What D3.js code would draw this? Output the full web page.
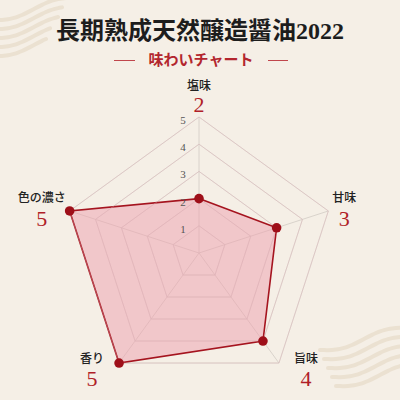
<!DOCTYPE html>
<html>
<head>
<meta charset="utf-8">
<script src="https://cdn.jsdelivr.net/npm/d3@7"></script>
<style>
  html, body { margin: 0; padding: 0; background: #f5efe6; }
  svg { display: block; }
</style>
</head>
<body>
<svg id="chart" width="400" height="400"></svg>
<script>
const axisNames = ['塩味', '甘味', '旨味', '香り', '色の濃さ']
const axisValues = [2, 3, 4, 5, 5]
const tickLevels = [1, 2, 3, 4, 5]

const width = 400, height = 400
const cx = 199, cy = 253
const maxR = 136

const svg = d3.select('#chart')

// background + faint wave decoration
svg.append('rect')
    .attr('width', width)
    .attr('height', height)
    .attr('fill', '#f5efe6')

const waves = svg.append('g')
    .attr('fill', 'none')
    .attr('stroke', '#ebe1d1')
    .attr('stroke-linecap', 'round')

const wave = (x0, y0, w, amp) => {
    const pts = d3.range(0, w + 1, 4).map(x => [x0 + x, y0 + Math.sin(x / 14) * amp - x * 0.25])
    return d3.line().curve(d3.curveBasis)(pts)
}
;[0, 9, 18, 27, 36].forEach((off, i) => {
    waves.append('path')
        .attr('d', wave(-10, 20 + off, 80 - i * 6, 4))
        .attr('stroke-width', 4)
})
;[0, 9, 18, 27, 36].forEach((off, i) => {
    waves.append('path')
        .attr('d', wave(320 + i * 4, 350 + off, 90 - i * 4, 4))
        .attr('stroke-width', 4)
})

// title
svg.append('text')
    .attr('x', 200)
    .attr('y', 39)
    .attr('text-anchor', 'middle')
    .attr('font-family', '"Liberation Serif", "Noto Sans CJK JP", serif')
    .attr('font-weight', 700)
    .attr('font-size', 24)
    .attr('fill', '#1d1d1d')
    .text('長期熟成天然醸造醤油2022')

svg.append('text')
    .attr('x', 201)
    .attr('y', 65)
    .attr('text-anchor', 'middle')
    .attr('font-family', '"Noto Sans CJK JP", sans-serif')
    .attr('font-weight', 700)
    .attr('font-size', 15)
    .attr('fill', '#b3262e')
    .text('味わいチャート')

svg.append('line').attr('x1', 114).attr('x2', 135).attr('y1', 60.5).attr('y2', 60.5)
    .attr('stroke', '#c0464c').attr('stroke-width', 1)
svg.append('line').attr('x1', 268).attr('x2', 288).attr('y1', 60.5).attr('y2', 60.5)
    .attr('stroke', '#c0464c').attr('stroke-width', 1)

// radar
const rScale = d3.scaleLinear().domain([0, 5]).range([0, maxR])
const angle = d3.scaleLinear().domain([0, axisNames.length]).range([0, 2 * Math.PI])

const point = (i, v) => {
    const a = angle(i)
    return [cx + Math.sin(a) * rScale(v), cy - Math.cos(a) * rScale(v)]
}

const radar = svg.append('g')

const ring = d3.lineRadial()
    .angle((d, i) => angle(i))
    .radius(d => rScale(d))
    .curve(d3.curveLinearClosed)

// grid rings
tickLevels.forEach(level => {
    radar.append('path')
        .attr('transform', `translate(${cx},${cy})`)
        .attr('d', ring(axisNames.map(() => level)))
        .attr('fill', 'none')
        .attr('stroke', '#d2ccc4')
        .attr('stroke-width', 0.8)
})

// spokes
axisNames.forEach((name, i) => {
    const [x, y] = point(i, 5)
    radar.append('line')
        .attr('x1', cx).attr('y1', cy)
        .attr('x2', x).attr('y2', y)
        .attr('stroke', '#d2ccc4')
        .attr('stroke-width', 0.8)
})

// data polygon
radar.append('path')
    .attr('transform', `translate(${cx},${cy})`)
    .attr('d', ring(axisValues))
    .attr('fill', '#ee9fae')
    .attr('fill-opacity', 0.5)
    .attr('stroke', '#a5141f')
    .attr('stroke-width', 1.6)

// inner grid visible through fill
tickLevels.forEach(level => {
    radar.append('path')
        .attr('transform', `translate(${cx},${cy})`)
        .attr('d', ring(axisNames.map(() => level)))
        .attr('fill', 'none')
        .attr('stroke', '#e2b3bb')
        .attr('stroke-width', 0.6)
        .attr('opacity', 0.6)
})

radar.selectAll('circle.dot')
    .data(axisValues)
    .enter()
    .append('circle')
    .attr('class', 'dot')
    .attr('cx', (d, i) => point(i, d)[0])
    .attr('cy', (d, i) => point(i, d)[1])
    .attr('r', 4.8)
    .attr('fill', '#9e0f19')

// tick labels along the top axis
radar.selectAll('text.tick')
    .data(tickLevels)
    .enter()
    .append('text')
    .attr('class', 'tick')
    .attr('x', cx - 16)
    .attr('y', d => cy - rScale(d) + 7)
    .attr('text-anchor', 'middle')
    .attr('font-family', '"Liberation Serif", serif')
    .attr('font-size', 11)
    .attr('fill', '#555')
    .text(d => d)

// axis labels and values
const labels = svg.append('g')
axisNames.forEach((name, i) => {
    const a = angle(i)
    const [vx, vy] = point(i, 5)
    const s = Math.sin(a), c = Math.cos(a)

    const nameText = labels.append('text')
        .attr('text-anchor', 'middle')
        .attr('font-family', '"Noto Sans CJK JP", sans-serif')
        .attr('font-weight', 500)
        .attr('font-size', 12)
        .attr('fill', '#222')
        .text(name)
    const w = nameText.node().getComputedTextLength()

    let lx, ly, ny
    if (Math.abs(s) < 0.1) {
        lx = vx; ly = vy - 27; ny = vy - 5
    } else if (c > 0) {
        lx = vx + Math.sign(s) * (4 + w / 2); ly = vy - 9; ny = vy + 15
    } else {
        lx = vx + Math.sign(s) * (15 + w / 2); ly = vy; ny = vy + 23
    }

    nameText.attr('x', lx).attr('y', ly)

    labels.append('text')
        .attr('x', lx)
        .attr('y', ny)
        .attr('text-anchor', 'middle')
        .attr('font-family', '"Liberation Serif", serif')
        .attr('font-size', 22)
        .attr('fill', '#b01e28')
        .text(axisValues[i])
})
</script>
</body>
</html>
